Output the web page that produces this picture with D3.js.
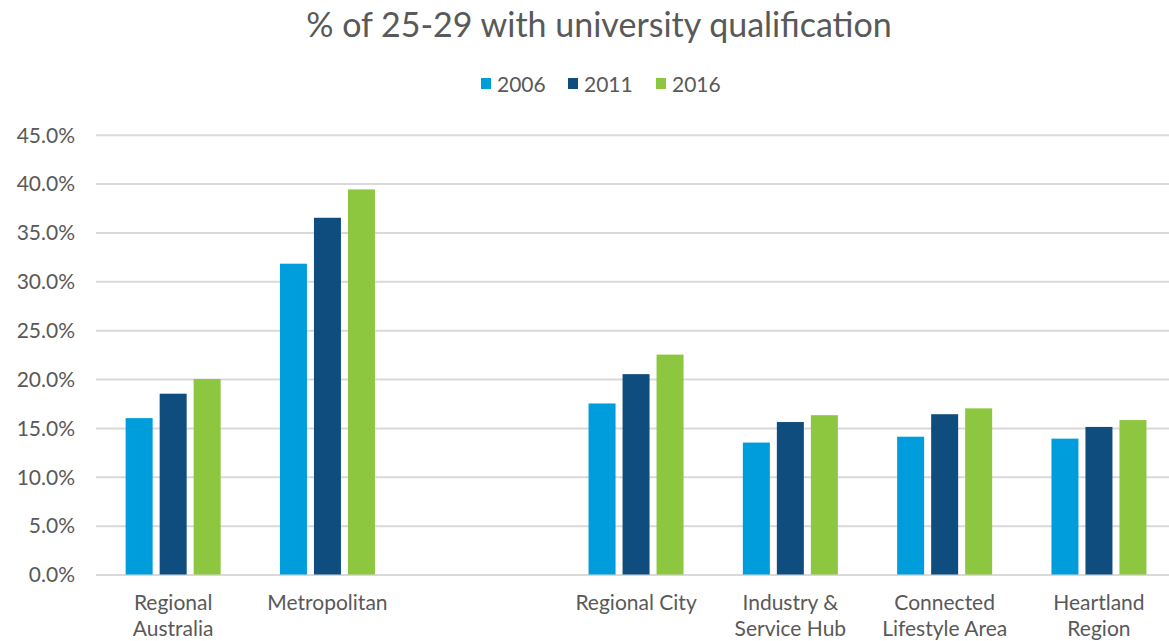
<!DOCTYPE html>
<html lang="en">
<head>
    <meta charset="utf-8">
    <title>% of 25-29 with university qualification</title>
    <script type="text/javascript" src="https://d3js.org/d3.v7.min.js"></script>
    <style type="text/css">
        body { margin: 0; background: #fff; }
        svg { display: block; font-family: Lato, "Open Sans", sans-serif; }
        .title { font-size: 34px; fill: #595959; text-anchor: middle; }
        .axis { font-family: Lato, "Open Sans", sans-serif; }
        .axis .tick text { font-size: 21px; fill: #595959; }
        .legend text { font-size: 21px; fill: #595959; }
    </style>
</head>
<body>
<div id="chart"></div>
<script type="text/javascript">

    //Categories (the blank one is the gap between the two groups)
    var categories = ["Regional Australia", "Metropolitan", "", "Regional City",
        "Industry & Service Hub", "Connected Lifestyle Area", "Heartland Region"];

    //Tick labels split in lines as in the original
    var tickLabels = [["Regional", "Australia"], ["Metropolitan"], [""], ["Regional City"],
        ["Industry &", "Service Hub"], ["Connected", "Lifestyle Area"], ["Heartland", "Region"]];

    var series = ["2006", "2011", "2016"];
    var colors = ["#009ddc", "#0e4d7e", "#8dc63f"];

    //Values in percent
    var values2006 = [16.0, 31.8, null, 17.5, 13.5, 14.1, 13.9];
    var values2011 = [18.5, 36.5, null, 20.5, 15.6, 16.4, 15.1];
    var values2016 = [20.0, 39.4, null, 22.5, 16.3, 17.0, 15.8];

    var yTicks = [0, 5, 10, 15, 20, 25, 30, 35, 40, 45];

    var w = 1169;
    var h = 641;
    var margin = { left: 96, top: 134.7, bottom: 574.5 };
    var plotRight = margin.left + 7 * 154.3;

    var svg = d3.select("#chart")
        .append("svg")
        .attr("width", w)
        .attr("height", h);

    var x0 = d3.scaleBand()
        .domain(categories)
        .range([margin.left, plotRight])
        .padding(0);

    var groupWidth = 95;
    var x1 = d3.scaleBand()
        .domain(series)
        .range([0, groupWidth])
        .paddingInner(0.206)
        .paddingOuter(0);

    var y = d3.scaleLinear()
        .domain([0, 45])
        .range([margin.bottom, margin.top]);

    var color = d3.scaleOrdinal().domain(series).range(colors);

    //Title
    svg.append("text")
        .attr("class", "title")
        .attr("x", 599)
        .attr("y", 37)
        .text("% of 25-29 with university qualification");

    //Gridlines + y labels
    var yAxis = svg.append("g")
        .attr("class", "axis")
        .attr("transform", "translate(" + margin.left + ",0)")
        .call(d3.axisLeft(y)
            .tickValues(yTicks)
            .tickSize(-(w - margin.left))
            .tickPadding(21)
            .tickFormat(function (d) { return d.toFixed(1) + "%"; }));
    yAxis.attr("font-family", null).attr("font-size", null);
    yAxis.select(".domain").remove();
    yAxis.selectAll(".tick line")
        .attr("stroke", "#d9d9d9")
        .attr("stroke-width", 2);
    yAxis.selectAll(".tick text").attr("dy", "0.35em");

    //Bars
    var table = categories.map(function (c, i) {
        return { cat: c, vals: [values2006[i], values2011[i], values2016[i]] };
    });

    var groups = svg.selectAll("g.group")
        .data(table)
        .enter()
        .append("g")
        .attr("class", "group")
        .attr("transform", function (d) {
            return "translate(" + (x0(d.cat) + (x0.bandwidth() - groupWidth) / 2) + ",0)";
        });

    groups.selectAll("rect")
        .data(function (d) {
            return series.map(function (s, j) { return { key: s, value: d.vals[j] }; })
                .filter(function (e) { return e.value != null; });
        })
        .enter()
        .append("rect")
        .attr("x", function (d) { return x1(d.key); })
        .attr("y", function (d) { return y(d.value); })
        .attr("width", x1.bandwidth())
        .attr("height", function (d) { return y(0) - y(d.value); })
        .style("fill", function (d) { return color(d.key); });

    //Category labels
    var xAxis = svg.append("g")
        .attr("class", "axis")
        .attr("transform", "translate(0," + margin.bottom + ")")
        .call(d3.axisBottom(x0).tickSize(0).tickFormat(""));
    xAxis.attr("font-family", null).attr("font-size", null);
    xAxis.select(".domain").remove();
    xAxis.selectAll(".tick").each(function (d, i) {
        var t = d3.select(this).append("text")
            .attr("fill", "#595959")
            .attr("text-anchor", "middle")
            .attr("y", 35);
        tickLabels[i].forEach(function (line, k) {
            t.append("tspan").attr("x", 0).attr("dy", k === 0 ? 0 : 26).text(line);
        });
    });

    //Legend
    var legendX = [481, 568, 656];
    var legend = svg.selectAll("g.legend")
        .data(series)
        .enter()
        .append("g")
        .attr("class", "legend")
        .attr("transform", function (d, i) { return "translate(" + legendX[i] + ",0)"; });
    legend.append("rect")
        .attr("x", 0)
        .attr("y", 78)
        .attr("width", 10)
        .attr("height", 11)
        .style("fill", function (d) { return color(d); });
    legend.append("text")
        .attr("x", 16)
        .attr("y", 92)
        .text(function (d) { return d; });

</script>
</body>
</html>
